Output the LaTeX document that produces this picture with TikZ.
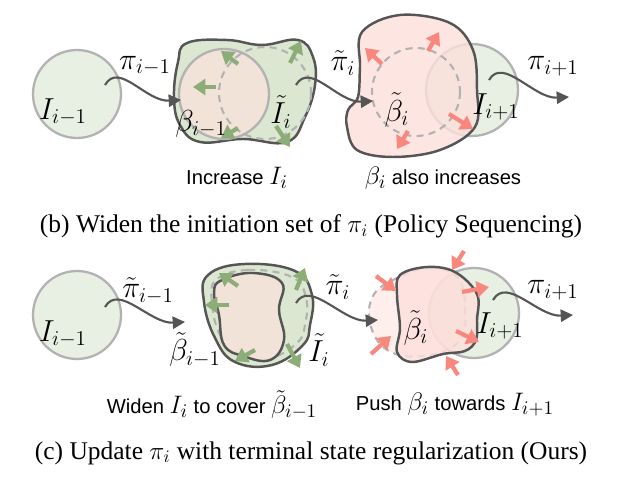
\documentclass[tikz,border=0pt]{standalone}
\usepackage{fontspec}
\setmainfont{Liberation Serif}
\setsansfont{Liberation Sans}
\usetikzlibrary{arrows.meta,positioning}
\definecolor{setgreen}{RGB}{232,240,227}
\definecolor{blobgreen}{RGB}{219,231,209}
\definecolor{peach}{RGB}{242,227,216}
\definecolor{blobpink}{RGB}{253,223,219}
\definecolor{ringgray}{RGB}{178,178,178}
\definecolor{edgegray}{RGB}{85,85,85}
\definecolor{arrowgreen}{RGB}{140,172,120}
\definecolor{arrowred}{RGB}{248,136,126}
\newcommand{\mlab}[1]{{\fontsize{15}{15}\selectfont$#1$}}

\begin{document}
\begin{tikzpicture}[x=0.02cm, y=-0.02cm,
    setring/.style={fill=setgreen, draw=ringgray, line width=1.3pt},
    oldset/.style={draw=ringgray, line width=1.2pt, dash pattern=on 4pt off 3pt},
    blob/.style={draw=edgegray, line width=1.4pt},
    flow/.style={draw=edgegray, line width=1.2pt, -{Triangle[length=7pt,width=7pt]}},
    widenarrow/.style={arrowgreen, line width=2.4pt, -{Triangle[length=7pt,width=9pt]}},
    pusharrow/.style={arrowred, line width=2.4pt, -{Triangle[length=7pt,width=9pt]}},
    lbl/.style={inner sep=0pt, font=\fontsize{18}{18}\selectfont},
    note/.style={inner sep=1pt, font=\sffamily\fontsize{11.5}{13}\selectfont},
    captext/.style={inner sep=1pt, font=\fontsize{14.5}{16}\selectfont},
]
    \useasboundingbox (0,0) rectangle (622,479);

    % (b) policy sequencing
    \draw[setring] (77,94) circle[radius=44];
    \fill[blobgreen] plot[smooth cycle, tension=0.7] coordinates {(187,43) (227,40) (262,45) (298,40) (313,57) (315,85) (305,117) (287,142) (243,139) (200,142) (180,125) (174,97) (178,62)};
    \draw[blob] plot[smooth cycle, tension=0.7] coordinates {(187,43) (227,40) (262,45) (298,40) (313,57) (315,85) (305,117) (287,142) (243,139) (200,142) (180,125) (174,97) (178,62)};
    \draw[fill=peach, draw=ringgray, line width=1.3pt] (224,94) circle[radius=45];
    \draw[oldset] (265,93) circle[radius=46];
    \draw[widenarrow] (238,64) -- (221,51);
    \draw[widenarrow] (216,87) -- (193,87);
    \draw[widenarrow] (290,63) -- (301,41);
    \draw[widenarrow] (238,128) -- (221,138);
    \draw[widenarrow] (276,126) -- (290,147);

    \draw[setring] (472,90) circle[radius=46];
    \fill[blobpink, fill opacity=0.8] plot[smooth cycle, tension=0.6] coordinates {(362,32) (400,15) (450,23) (473,50) (477,90) (475,127) (440,150) (393,157) (357,150) (347,127) (348,110) (358,97) (360,67)};
    \draw[blob] plot[smooth cycle, tension=0.6] coordinates {(362,32) (400,15) (450,23) (473,50) (477,90) (475,127) (440,150) (393,157) (357,150) (347,127) (348,110) (358,97) (360,67)};
    \draw[oldset] (416,92) circle[radius=44];
    \draw[pusharrow] (382,64) -- (365,48);
    \draw[pusharrow] (428,51) -- (439,32);
    \draw[pusharrow] (449,114) -- (473,129);
    \draw[pusharrow] (408,131) -- (397,149);

    \coordinate (s1) at (105,85);
    \coordinate (e1) at (181,100);
    \coordinate (s2) at (296,85);
    \coordinate (e2) at (373,101);
    \coordinate (s3) at (489,80);
    \coordinate (e3) at (569,97);
    \draw[flow] (s1) .. controls +(14,-24) and +(-35,2) .. (e1);
    \draw[flow] (s2) .. controls +(14,-24) and +(-35,2) .. (e2);
    \draw[flow] (s3) .. controls +(14,-24) and +(-35,2) .. (e3);

    \node[lbl] (lIprev) at (63,112) {$I_{i-1}$};
    \node[lbl] (lpi1) at (145,66) {$\pi_{i-1}$};
    \node[lbl] (lbeta) at (201,124) {$\beta_{i-1}$};
    \node[lbl] (lIhat) at (281,112) {$\tilde{I}_i$};
    \node[lbl] (lpi2) at (343,63) {$\tilde{\pi}_i$};
    \node[lbl] (lbetat) at (397,110) {$\tilde{\beta}_i$};
    \node[lbl] (lInext) at (496,107) {$I_{i+1}$};
    \node[lbl] (lpi3) at (553,66) {$\pi_{i+1}$};

    \node[note] (tinc) at (237,178) {Increase \mlab{I_i}};
    \node[note] (tbeta) at (443,178) {\mlab{\beta_i} also increases};
    \node[captext] (capb) at (311,226) {(b) Widen the initiation set of $\pi_i$ (Policy Sequencing)};

    % (c) terminal state regularization
    \draw[setring] (77,315) circle[radius=44];
    \fill[blobgreen] plot[smooth cycle, tension=0.7] coordinates {(208,275) (245,264) (295,271) (312,295) (310,325) (303,345) (272,365) (235,362) (215,338) (204,302)};
    \draw[blob] plot[smooth cycle, tension=0.7] coordinates {(208,275) (245,264) (295,271) (312,295) (310,325) (303,345) (272,365) (235,362) (215,338) (204,302)};
    \draw[oldset] plot[smooth cycle, tension=0.7] coordinates {(216,280) (248,270) (292,277) (306,298) (305,325) (297,343) (270,358) (238,355) (220,335) (212,303)};
    \fill[peach] plot[smooth cycle, tension=0.7] coordinates {(222,280) (253,273) (282,283) (279,310) (284,340) (270,360) (243,356) (224,345) (219,315) (214,292)};
    \draw[blob] plot[smooth cycle, tension=0.7] coordinates {(222,280) (253,273) (282,283) (279,310) (284,340) (270,360) (243,356) (224,345) (219,315) (214,292)};
    \draw[widenarrow] (238,286) -- (219,273);
    \draw[widenarrow] (229,305) -- (205,305);
    \draw[widenarrow] (296,290) -- (305,268);
    \draw[widenarrow] (255,350) -- (235,361);
    \draw[widenarrow] (287,344) -- (300,368);

    \draw[setring] (474,313) circle[radius=45];
    \fill[blobpink, fill opacity=0.5] plot[smooth cycle, tension=0.7] coordinates {(395,279) (430,268) (458,278) (465,310) (460,340) (430,355) (393,353) (372,330) (372,298)};
    \draw[oldset] plot[smooth cycle, tension=0.7] coordinates {(395,279) (430,268) (458,278) (465,310) (460,340) (430,355) (393,353) (372,330) (372,298)};
    \fill[blobpink, fill opacity=0.8] plot[smooth cycle, tension=0.6] coordinates {(400,275) (427,267) (455,272) (477,294) (477,320) (476,340) (465,351) (443,354) (412,362) (397,352) (400,328) (397,295)};
    \draw[blob] plot[smooth cycle, tension=0.6] coordinates {(400,275) (427,267) (455,272) (477,294) (477,320) (476,340) (465,351) (443,354) (412,362) (397,352) (400,328) (397,295)};
    \draw[pusharrow] (464,251) -- (452,270);
    \draw[pusharrow] (376,276) -- (396,291);
    \draw[pusharrow] (371,354) -- (391,336);
    \draw[pusharrow] (458,375) -- (446,356);
    \draw[pusharrow] (462,292) -- (489,287);
    \draw[pusharrow] (456,331) -- (479,342);

    \coordinate (s4) at (105,307);
    \coordinate (e4) at (185,322);
    \coordinate (s5) at (296,303);
    \coordinate (e5) at (378,320);
    \coordinate (s6) at (493,300);
    \coordinate (e6) at (573,315);
    \draw[flow] (s4) .. controls +(14,-24) and +(-35,2) .. (e4);
    \draw[flow] (s5) .. controls +(14,-24) and +(-35,2) .. (e5);
    \draw[flow] (s6) .. controls +(14,-24) and +(-35,2) .. (e6);

    \node[lbl] (lIprevc) at (63,334) {$I_{i-1}$};
    \node[lbl] (lpi4) at (148,291) {$\tilde{\pi}_{i-1}$};
    \node[lbl] (lbetac) at (195,350) {$\tilde{\beta}_{i-1}$};
    \node[lbl] (lIhatc) at (319,350) {$\tilde{I}_i$};
    \node[lbl] (lpi5) at (338,287) {$\tilde{\pi}_i$};
    \node[lbl] (lbetatc) at (416,328) {$\tilde{\beta}_i$};
    \node[lbl] (lInextc) at (500,326) {$I_{i+1}$};
    \node[lbl] (lpi6) at (553,290) {$\pi_{i+1}$};

    \node[note] (twid) at (212,405) {Widen \mlab{I_i} to cover \mlab{\tilde{\beta}_{i-1}}};
    \node[note] (tpush) at (455,405) {Push \mlab{\beta_i} towards \mlab{I_{i+1}}};
    \node[captext] (capc) at (311,453) {(c) Update $\pi_i$ with terminal state regularization (Ours)};
\end{tikzpicture}
\end{document}
